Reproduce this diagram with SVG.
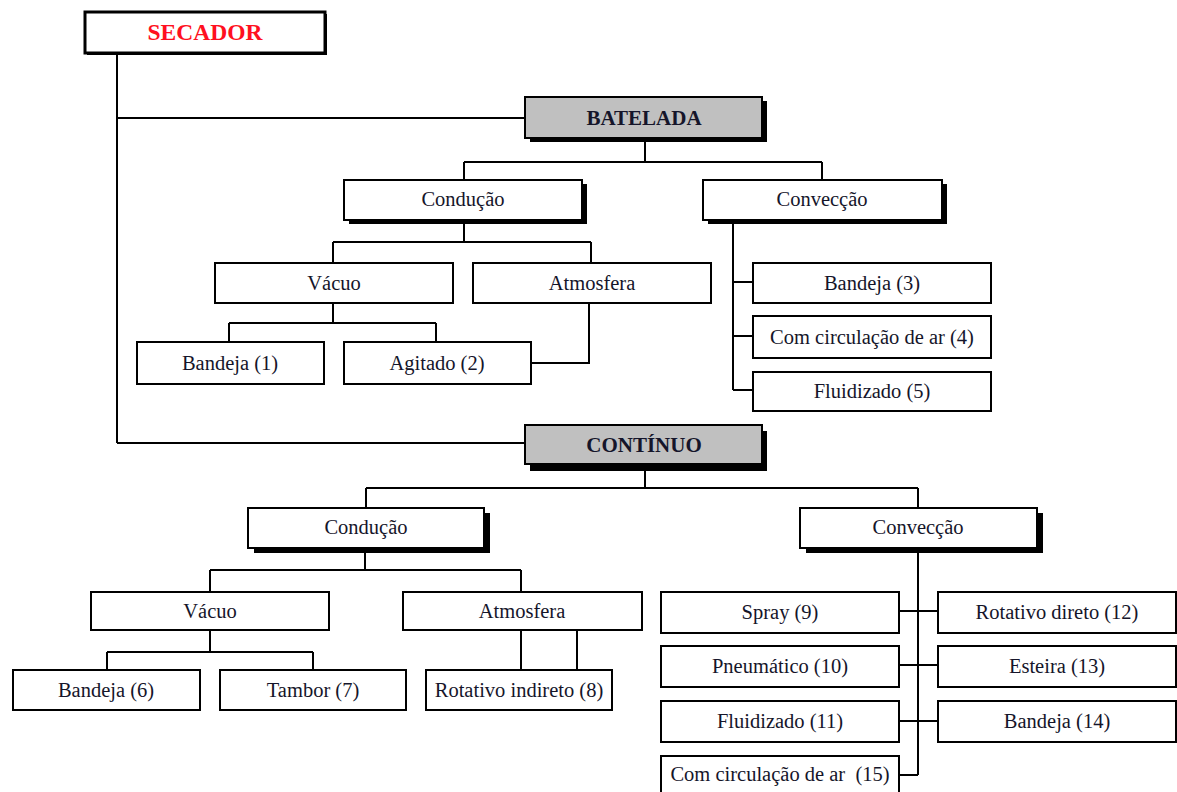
<svg xmlns="http://www.w3.org/2000/svg" width="1177" height="792" viewBox="0 0 1177 792">
<style>
.box{fill:#fff;stroke:#000;stroke-width:2}
.gray{fill:#c0c0c0;stroke:#000;stroke-width:2}
.sh{fill:#000}
.t{font-family:"Liberation Serif","Times New Roman",serif;font-size:20.5px;text-anchor:middle;fill:#15152a}
.b{font-weight:bold;font-size:21px}
.red{fill:#ff1020;font-size:23.5px}
.conn{stroke:#000;stroke-width:2;fill:none}
</style>
<rect width="1177" height="792" fill="#fff"/>
<g id="connectors">
<path class="conn" d="M117 53 V443 M117 118 H525 M117 443 H525"/>
<path class="conn" d="M645 138 V162 M464 162 H822 M464 162 V180 M822 162 V180"/>
<path class="conn" d="M464 220 V242 M333 242 H591 M333 242 V263 M591 242 V263"/>
<path class="conn" d="M333 303 V323 M229 323 H436 M229 323 V342 M436 323 V342"/>
<path class="conn" d="M589 303 V363 H531"/>
<path class="conn" d="M733 220 V390 M733 282 H753 M733 336 H753 M733 390 H753"/>
<path class="conn" d="M645 464 V488 M366 488 H918 M366 488 V508 M918 488 V508"/>
<path class="conn" d="M365 548 V570 M210 570 H521 M210 570 V592 M521 570 V592"/>
<path class="conn" d="M210 630 V652 M107 652 H313 M107 652 V670 M313 652 V670"/>
<path class="conn" d="M521 630 V670 M577 630 V670"/>
<path class="conn" d="M918 548 V775 M899 611 H938 M899 665 H938 M899 721 H938 M899 775 H918"/>
</g>
<g id="secador"><rect class="sh" x="87" y="14" width="240" height="41"/><rect x="85" y="12" width="240" height="41" fill="#fff" stroke="#000" stroke-width="3"/><text class="t b red" x="205" y="40">SECADOR</text></g>
<g id="batelada"><rect class="sh" x="530" y="101" width="237" height="41"/><rect class="gray" x="525" y="97" width="237" height="41"/><text class="t b" x="644" y="125">BATELADA</text></g>
<g id="conducao1"><rect class="sh" x="349" y="184" width="238" height="40"/><rect class="box" x="344" y="180" width="238" height="40"/><text class="t" x="463" y="206">Condução</text></g>
<g id="conveccao1"><rect class="sh" x="708" y="184" width="239" height="40"/><rect class="box" x="703" y="180" width="239" height="40"/><text class="t" x="822" y="206">Convecção</text></g>
<g id="vacuo1"><rect class="box" x="215" y="263" width="238" height="40"/><text class="t" x="334" y="290">Vácuo</text></g>
<g id="atmosfera1"><rect class="box" x="473" y="263" width="238" height="40"/><text class="t" x="592" y="290">Atmosfera</text></g>
<g id="bandeja1"><rect class="box" x="137" y="342" width="187" height="42"/><text class="t" x="230" y="370">Bandeja (1)</text></g>
<g id="agitado2"><rect class="box" x="344" y="342" width="187" height="42"/><text class="t" x="437" y="370">Agitado (2)</text></g>
<g id="bandeja3"><rect class="box" x="753" y="263" width="238" height="40"/><text class="t" x="872" y="290">Bandeja (3)</text></g>
<g id="circulacao4"><rect class="box" x="753" y="316" width="238" height="42"/><text class="t" x="872" y="344">Com circulação de ar (4)</text></g>
<g id="fluidizado5"><rect class="box" x="753" y="372" width="238" height="39"/><text class="t" x="872" y="398">Fluidizado (5)</text></g>
<g id="continuo"><rect class="sh" x="530" y="431" width="237" height="40"/><rect class="gray" x="525" y="425" width="237" height="39"/><text class="t b" x="644" y="452">CONTÍNUO</text></g>
<g id="conducao2"><rect class="sh" x="254" y="513" width="236" height="40"/><rect class="box" x="248" y="508" width="236" height="40"/><text class="t" x="366" y="534">Condução</text></g>
<g id="conveccao2"><rect class="sh" x="806" y="513" width="237" height="40"/><rect class="box" x="800" y="508" width="237" height="40"/><text class="t" x="918" y="534">Convecção</text></g>
<g id="vacuo2"><rect class="box" x="91" y="592" width="238" height="38"/><text class="t" x="210" y="618">Vácuo</text></g>
<g id="atmosfera2"><rect class="box" x="403" y="592" width="239" height="38"/><text class="t" x="522" y="618">Atmosfera</text></g>
<g id="bandeja6"><rect class="box" x="13" y="670" width="187" height="40"/><text class="t" x="106" y="697">Bandeja (6)</text></g>
<g id="tambor7"><rect class="box" x="220" y="670" width="186" height="40"/><text class="t" x="313" y="697">Tambor (7)</text></g>
<g id="rotativo8"><rect class="box" x="426" y="670" width="186" height="40"/><text class="t" x="519" y="697">Rotativo indireto (8)</text></g>
<g id="spray9"><rect class="box" x="661" y="592" width="238" height="41"/><text class="t" x="780" y="619">Spray (9)</text></g>
<g id="pneumatico10"><rect class="box" x="661" y="646" width="238" height="41"/><text class="t" x="780" y="673">Pneumático (10)</text></g>
<g id="fluidizado11"><rect class="box" x="661" y="701" width="238" height="41"/><text class="t" x="780" y="728">Fluidizado (11)</text></g>
<g id="circulacao15"><rect class="box" x="661" y="756" width="238" height="42"/><text class="t" x="780" y="781" xml:space="preserve">Com circulação de ar  (15)</text></g>
<g id="rotativo12"><rect class="box" x="938" y="592" width="238" height="41"/><text class="t" x="1057" y="619">Rotativo direto (12)</text></g>
<g id="esteira13"><rect class="box" x="938" y="646" width="238" height="41"/><text class="t" x="1057" y="673">Esteira (13)</text></g>
<g id="bandeja14"><rect class="box" x="938" y="701" width="238" height="41"/><text class="t" x="1057" y="728">Bandeja (14)</text></g>
</svg>
